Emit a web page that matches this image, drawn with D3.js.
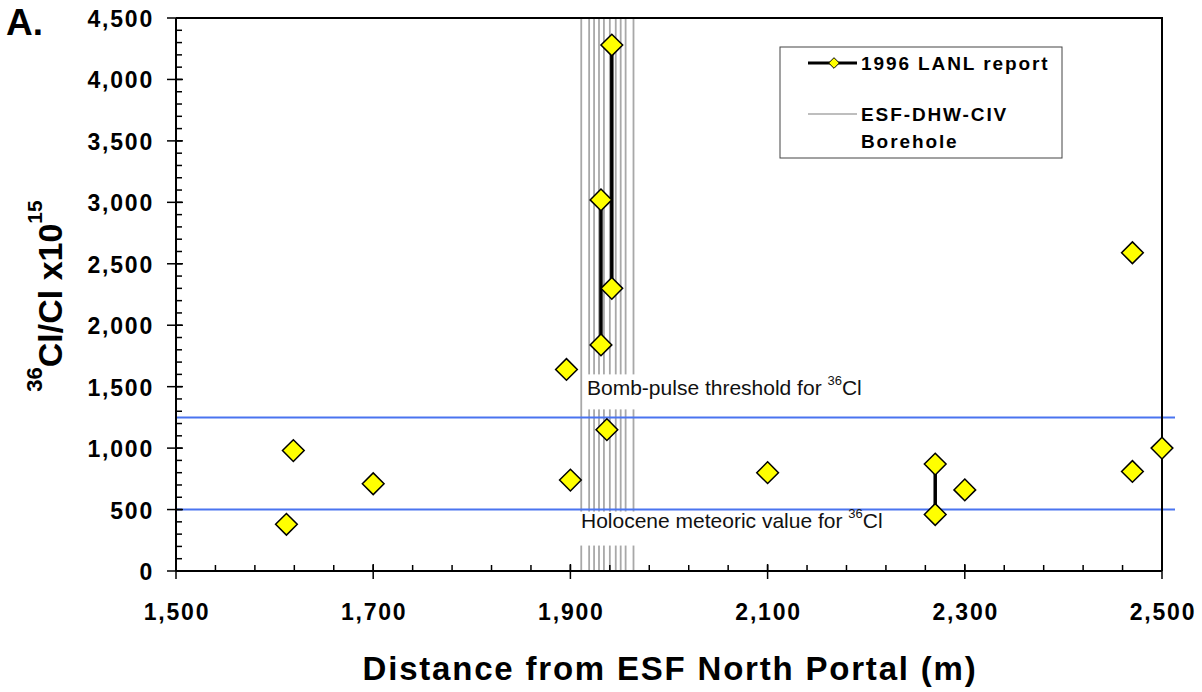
<!DOCTYPE html>
<html>
<head>
<meta charset="utf-8">
<script src="https://cdn.jsdelivr.net/npm/d3@7"></script>
<style>
  body { margin: 0; background: #fff; }
  svg text { font-family: "Liberation Sans", Arial, sans-serif; }
</style>
</head>
<body>
<div id="chart"></div>
<script>
// ---------------------------------------------------------------
// donnees
var distances = [1612, 1619, 1700, 1896, 1900, 1931, 1931, 1942, 1942, 1937, 2100, 2270, 2270, 2300, 2470, 2470, 2500];
var ratios    = [380, 980, 710, 1640, 740, 3020, 1840, 4280, 2300, 1150, 800, 870, 460, 660, 2590, 810, 1000];
// paires de points reliees par un trait (indices dans les tableaux)
var liaisons = [[5, 6], [7, 8], [11, 12]];
// positions du forage ESF-DHW-CIV
var forage = [1911, 1919, 1924, 1929, 1934, 1940, 1946, 1951, 1956, 1964];
var seuilBombe = 1250, valeurHolocene = 500;
var xTicks = [1500, 1700, 1900, 2100, 2300, 2500];
var yTicks = [0, 500, 1000, 1500, 2000, 2500, 3000, 3500, 4000, 4500];

// ---------------------------------------------------------------
var largeur = 1202, hauteur = 692;
var marge = {gauche: 176, droite: 1162, haut: 18, bas: 571};

var svg = d3.select("#chart").append("svg")
  .attr("width", largeur)
  .attr("height", hauteur);

var x = d3.scaleLinear().domain([1500, 2500]).range([marge.gauche, marge.droite]);
var y = d3.scaleLinear().domain([0, 4500]).range([marge.bas, marge.haut]);

// lignes du forage (gris)
svg.selectAll(".forage")
  .data(forage)
  .enter().append("line")
  .attr("class", "forage")
  .attr("x1", function(d){ return x(d); })
  .attr("x2", function(d){ return x(d); })
  .attr("y1", y(0))
  .attr("y2", y(4500))
  .attr("stroke", "#a8a8a8")
  .attr("stroke-width", 1.8);

// lignes horizontales bleues
svg.selectAll(".seuil")
  .data([seuilBombe, valeurHolocene])
  .enter().append("line")
  .attr("class", "seuil")
  .attr("x1", marge.gauche)
  .attr("x2", 1175)
  .attr("y1", function(d){ return y(d); })
  .attr("y2", function(d){ return y(d); })
  .attr("stroke", "#4a74f0")
  .attr("stroke-width", 2);

// etiquettes avec fond blanc
function etiquette(texte, x0, y0, fondX, fondY, fondL, fondH) {
  svg.append("rect")
    .attr("x", fondX).attr("y", fondY)
    .attr("width", fondL).attr("height", fondH)
    .attr("fill", "#fff");
  var t = svg.append("text")
    .attr("x", x0).attr("y", y0)
    .attr("font-size", "21px")
    .attr("fill", "#111");
  t.append("tspan").text(texte);
  t.append("tspan").attr("dy", -10).attr("font-size", "13px").text("36");
  t.append("tspan").attr("dy", 10).text("Cl");
}
etiquette("Bomb-pulse threshold for ", 587, 395, 584, y(seuilBombe) - 43, 300, 35);
etiquette("Holocene meteoric value for ", 581, 528, 579, y(valeurHolocene) + 2, 320, 34);

// traits reliant les points
svg.selectAll(".liaison")
  .data(liaisons)
  .enter().append("line")
  .attr("class", "liaison")
  .attr("x1", function(d){ return x(distances[d[0]]); })
  .attr("x2", function(d){ return x(distances[d[1]]); })
  .attr("y1", function(d){ return y(ratios[d[0]]); })
  .attr("y2", function(d){ return y(ratios[d[1]]); })
  .attr("stroke", "#000")
  .attr("stroke-width", 3.5);

// axes
var axeX = svg.append("g").attr("transform", "translate(0," + marge.bas + ")");
axeX.append("line").attr("x1", marge.gauche).attr("x2", marge.droite).attr("stroke", "#000").attr("stroke-width", 2);
axeX.selectAll(".minx")
  .data(d3.range(1500, 2501, 40))
  .enter().append("line")
  .attr("x1", function(d){ return x(d); })
  .attr("x2", function(d){ return x(d); })
  .attr("y1", -6).attr("y2", 0)
  .attr("stroke", "#000").attr("stroke-width", 1.5);
axeX.selectAll(".majx")
  .data(xTicks)
  .enter().append("line")
  .attr("x1", function(d){ return x(d); })
  .attr("x2", function(d){ return x(d); })
  .attr("y1", -7).attr("y2", 8)
  .attr("stroke", "#000").attr("stroke-width", 1.5);
axeX.selectAll(".labx")
  .data(xTicks)
  .enter().append("text")
  .attr("x", function(d){ return x(d) + 1; })
  .attr("y", 49)
  .attr("text-anchor", "middle")
  .attr("font-size", "23px")
  .attr("font-weight", "bold")
  .attr("letter-spacing", "1.8px")
  .text(function(d){ return d3.format(",")(d); });

var axeY = svg.append("g").attr("transform", "translate(" + marge.gauche + ",0)");
axeY.append("line").attr("y1", marge.haut).attr("y2", marge.bas).attr("stroke", "#000").attr("stroke-width", 2);
axeY.selectAll(".miny")
  .data(d3.range(0, 4501, 100))
  .enter().append("line")
  .attr("y1", function(d){ return y(d); })
  .attr("y2", function(d){ return y(d); })
  .attr("x1", 0).attr("x2", 6)
  .attr("stroke", "#000").attr("stroke-width", 1.5);
axeY.selectAll(".majy")
  .data(yTicks)
  .enter().append("line")
  .attr("y1", function(d){ return y(d); })
  .attr("y2", function(d){ return y(d); })
  .attr("x1", -9).attr("x2", 7)
  .attr("stroke", "#000").attr("stroke-width", 1.5);
axeY.selectAll(".laby")
  .data(yTicks)
  .enter().append("text")
  .attr("x", -22)
  .attr("y", function(d){ return y(d) + 9; })
  .attr("text-anchor", "end")
  .attr("font-size", "23px")
  .attr("font-weight", "bold")
  .attr("letter-spacing", "1.8px")
  .text(function(d){ return d3.format(",")(d); });

// cadre haut et droite
svg.append("path")
  .attr("d", "M" + marge.gauche + "," + marge.haut + "H" + marge.droite + "V" + marge.bas)
  .attr("fill", "none").attr("stroke", "#000").attr("stroke-width", 2);

// losanges jaunes
var losange = d3.symbol().type(d3.symbolDiamond2).size(300);
svg.selectAll(".point")
  .data(distances)
  .enter().append("path")
  .attr("class", "point")
  .attr("d", losange)
  .attr("transform", function(d, i){ return "translate(" + x(d) + "," + y(ratios[i]) + ")"; })
  .attr("fill", "#ffff00")
  .attr("stroke", "#000")
  .attr("stroke-width", 1.5);

// legende
var leg = svg.append("g");
leg.append("rect")
  .attr("x", 780).attr("y", 47).attr("width", 282).attr("height", 111)
  .attr("fill", "#fff").attr("stroke", "#444").attr("stroke-width", 1);
leg.append("line").attr("x1", 808).attr("x2", 857).attr("y1", 63).attr("y2", 63)
  .attr("stroke", "#000").attr("stroke-width", 3);
leg.append("path").attr("d", d3.symbol().type(d3.symbolDiamond2).size(72))
  .attr("transform", "translate(834,63)")
  .attr("fill", "#ffff00").attr("stroke", "#000").attr("stroke-width", 1);
leg.append("text").attr("x", 861).attr("y", 70)
  .attr("font-size", "19px").attr("font-weight", "bold").attr("letter-spacing", "1.9px")
  .text("1996 LANL report");
leg.append("line").attr("x1", 808).attr("x2", 857).attr("y1", 114).attr("y2", 114)
  .attr("stroke", "#a8a8a8").attr("stroke-width", 1.5);
leg.append("text").attr("x", 861).attr("y", 121)
  .attr("font-size", "19px").attr("font-weight", "bold").attr("letter-spacing", "1.9px")
  .text("ESF-DHW-CIV");
leg.append("text").attr("x", 861).attr("y", 148)
  .attr("font-size", "19px").attr("font-weight", "bold").attr("letter-spacing", "1.9px")
  .text("Borehole");

// titres
svg.append("text")
  .attr("x", 670).attr("y", 680)
  .attr("text-anchor", "middle")
  .attr("font-size", "33px").attr("font-weight", "bold")
  .attr("letter-spacing", "1.8px")
  .text("Distance from ESF North Portal (m)");

var titreY = svg.append("text")
  .attr("transform", "translate(62,296) rotate(-90)")
  .attr("text-anchor", "middle")
  .attr("font-size", "34px").attr("font-weight", "bold");
titreY.append("tspan").attr("font-size", "22px").attr("dy", -20).text("36");
titreY.append("tspan").attr("dy", 20).text("Cl/Cl x10");
titreY.append("tspan").attr("font-size", "21px").attr("dy", -20).text("15");

svg.append("text")
  .attr("x", 6).attr("y", 35)
  .attr("font-size", "37px").attr("font-weight", "bold")
  .text("A.");
</script>
</body>
</html>
